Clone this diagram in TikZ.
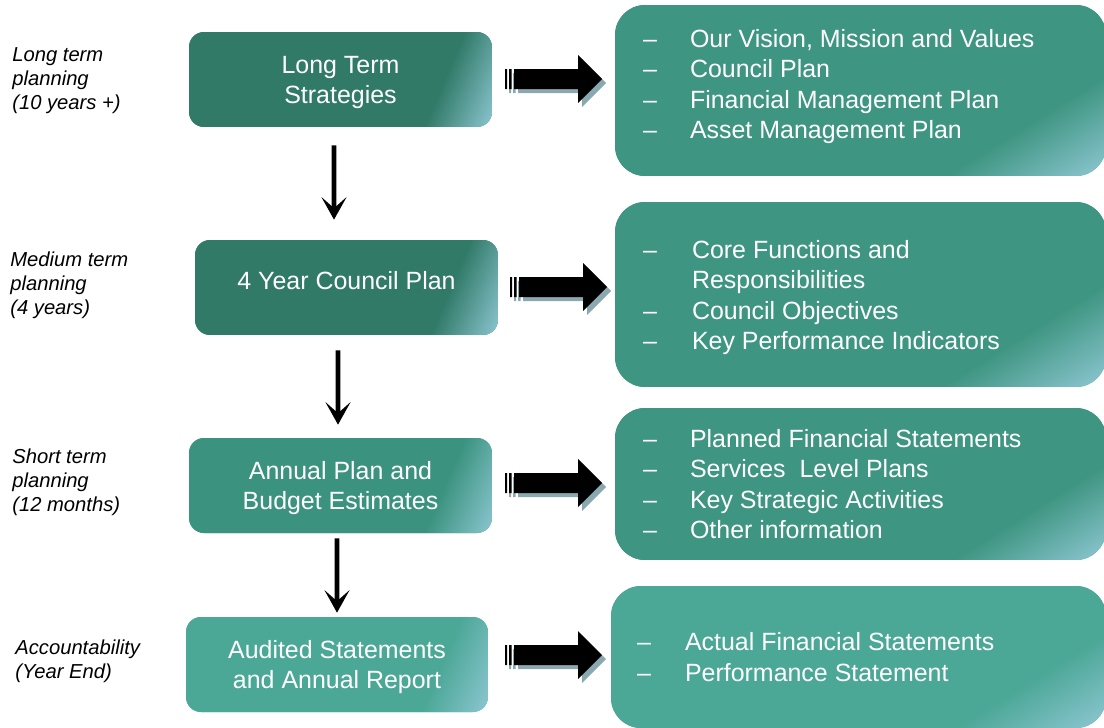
\documentclass[tikz,border=0pt]{standalone}
\usepackage{fontspec}
\setmainfont{Liberation Sans}
\usetikzlibrary{arrows.meta}

\definecolor{darkteal}{HTML}{317A68}
\definecolor{midteal}{HTML}{3B937F}
\definecolor{paleteal}{HTML}{4BA796}
\definecolor{listteal}{HTML}{3E9581}
\definecolor{fadeblue}{HTML}{8CC6D1}
\definecolor{shadowgrey}{HTML}{8AA8AF}
\colorlet{boxmain}{darkteal}

\pgfdeclarehorizontalshading[boxmain]{leftfade}{100bp}{color(0bp)=(boxmain); color(70bp)=(boxmain); color(83bp)=(fadeblue); color(100bp)=(fadeblue)}
\pgfdeclarehorizontalshading[boxmain]{rightfade}{100bp}{color(0bp)=(boxmain); color(70bp)=(boxmain); color(84bp)=(fadeblue); color(100bp)=(fadeblue)}

\tikzset{
  stage/.style={rectangle, rounded corners=0.3cm, fill=#1, text=white, align=center,
    minimum width=6.06cm, minimum height=1.9cm, text depth=0pt, font=\fontsize{14.2}{17}\selectfont,
    path picture={\colorlet{boxmain}{#1}\shade[shading=leftfade, shading angle=-23]
      (path picture bounding box.south west) rectangle (path picture bounding box.north east);}},
  plan/.style={rectangle, rounded corners=0.6cm, fill=#1, minimum width=9.82cm,
    path picture={\colorlet{boxmain}{#1}\shade[shading=rightfade, shading angle=-58]
      (path picture bounding box.south west) rectangle (path picture bounding box.north east);}},
  items/.style={anchor=west, text=white, inner sep=0pt, font=\fontsize{14.2}{17.4}\selectfont},
  horizon/.style={anchor=west, align=left, inner sep=0pt, font=\fontsize{11.5}{13.7}\selectfont\itshape},
  flow/.style={line width=2.6pt, -{Stealth[length=0.45cm, width=0.5cm, inset=0.22cm]}}
}

\begin{document}
\begin{tikzpicture}[x=0.02cm, y=-0.02cm]
    \useasboundingbox (0,0) rectangle (1104,727);

    % time horizons
    \node[horizon] (h1) at (12,81) {Long term\\planning\\(10 years +)};
    \node[horizon] (h2) at (10,285) {Medium term\\planning\\(4 years)};
    \node[horizon] (h3) at (12,482) {Short term\\planning\\(12 months)};
    \node[horizon] (h4) at (15,661) {Accountability\\(Year End)};

    % planning stages
    \node[stage=darkteal] (ls) at (340.5,79.5) {Long Term\\Strategies};
    \node[stage=darkteal, text depth=0.28cm] (cp) at (346.5,287.5) {4 Year Council Plan};
    \node[stage=midteal] (ap) at (340.5,485.5) {Annual Plan and\\Budget Estimates};
    \node[stage=paleteal, minimum width=6.04cm] (ar) at (337,664.5) {Audited Statements\\and Annual Report};

    \draw[flow] ([xshift=-0.13cm, yshift=-0.36cm]ls.south) -- ([xshift=-0.25cm, yshift=0.4cm]cp.north);
    \draw[flow] ([xshift=-0.17cm, yshift=-0.3cm]cp.south) -- ([xshift=-0.05cm, yshift=0.26cm]ap.north);
    \draw[flow] ([xshift=-0.07cm, yshift=-0.1cm]ap.south) -- ([yshift=0.08cm]ar.north);

    % contents of each stage
    \node[plan=listteal, minimum height=3.42cm] (p1) at (860.5,90.5) {};
    \node[plan=listteal, minimum height=3.7cm] (p2) at (860.5,294.5) {};
    \node[plan=listteal, minimum height=3.04cm] (p3) at (860.5,484) {};
    \node[plan=paleteal, minimum height=2.84cm, minimum width=9.9cm] (p4) at (858.5,657) {};

    \node[items] (t1) at ([xshift=0.56cm, yshift=0.07cm]p1.west) {\begin{tabular}{@{}p{0.94cm}@{}l@{}}
      – & Our Vision, Mission and Values\\
      – & Council Plan\\
      – & Financial Management Plan\\
      – & Asset Management Plan
    \end{tabular}};
    \node[items] (t2) at ([xshift=0.56cm, yshift=-0.07cm]p2.west) {\begin{tabular}{@{}p{0.98cm}@{}l@{}}
      – & Core Functions and\\
        & Responsibilities\\
      – & Council Objectives\\
      – & Key Performance Indicators
    \end{tabular}};
    \node[items] (t3) at ([xshift=0.56cm, yshift=-0.06cm]p3.west) {\begin{tabular}{@{}p{0.94cm}@{}l@{}}
      – & Planned Financial Statements\\
      – & Services\ \ Level Plans\\
      – & Key Strategic Activities\\
      – & Other information
    \end{tabular}};
    \node[items] (t4) at ([xshift=0.52cm, yshift=-0.06cm]p4.west) {\begin{tabular}{@{}p{0.96cm}@{}l@{}}
      – & Actual Financial Statements\\
      – & Performance Statement
    \end{tabular}};

    % striped block arrows
    \foreach \ax/\ay in {505/79, 510/287, 505/483, 505/655}
      \foreach \col/\off in {shadowgrey/4, black/0}
        \fill[\col, shift={(\ax+\off,\ay+\off)}]
          (9,-10) -- (73,-10) -- (73,-24) -- (97,0) -- (73,24) -- (73,10) -- (9,10) -- cycle
          (0,-10) rectangle (2,10) (4,-10) rectangle (6.5,10);
\end{tikzpicture}
\end{document}
